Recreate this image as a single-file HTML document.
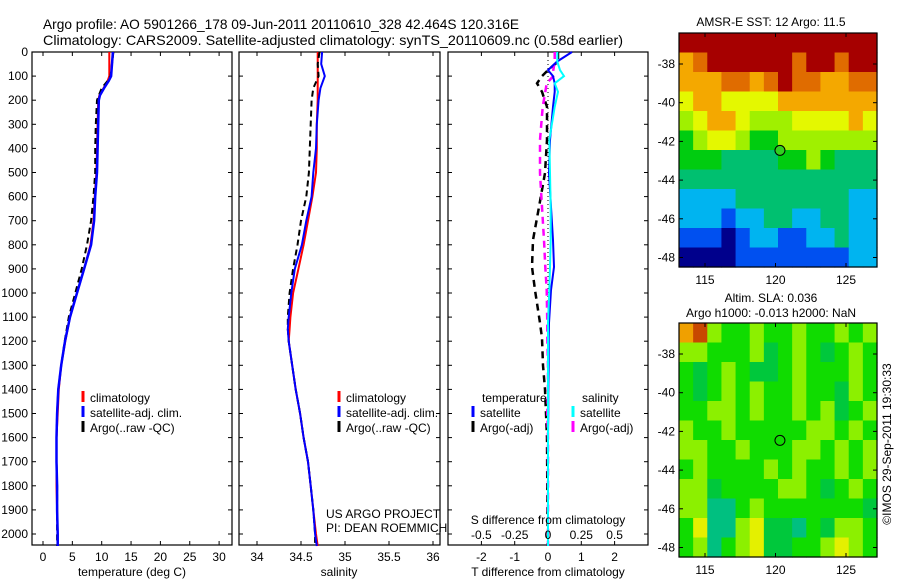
<!DOCTYPE html>
<html><head><meta charset="utf-8"><style>
html,body{margin:0;padding:0;background:#fff;}
svg{display:block;font-family:"Liberation Sans",sans-serif;}
</style></head><body>
<svg id="fig" width="900" height="580" viewBox="0 0 900 580" xmlns="http://www.w3.org/2000/svg">
<rect x="0" y="0" width="900" height="580" fill="#fff"/>
<text x="43" y="29" font-size="14" textLength="476" lengthAdjust="spacingAndGlyphs">Argo profile: AO 5901266_178 09-Jun-2011 20110610_328 42.464S 120.316E</text>
<text x="43" y="45" font-size="14" textLength="580" lengthAdjust="spacingAndGlyphs">Climatology: CARS2009. Satellite-adjusted climatology: synTS_20110609.nc (0.58d earlier)</text>
<g id="g"></g>
</svg>
<script>
// ---------- data ----------
const depthT = [0,100,120,150,180,200,300,400,500,600,700,800,900,1000,1100,1200,1300,1400,1500,1600,1700,1800,1900,2000,2050];
const tempClim = [11.3,11.3,11.0,10.3,9.6,9.4,9.3,9.2,9.1,8.8,8.6,8.1,7.0,5.8,4.6,3.8,3.1,2.7,2.5,2.3,2.3,2.3,2.4,2.5,2.5];
const tempSat  = [11.9,11.6,11.2,10.4,9.7,9.5,9.4,9.3,9.2,8.9,8.7,8.2,7.0,5.8,4.6,3.75,3.1,2.6,2.4,2.3,2.3,2.4,2.4,2.5,2.5];
const tempArgo = [12.0,11.5,11.0,10.0,9.5,9.2,9.0,8.9,8.9,8.6,8.2,7.5,6.6,5.5,4.4,3.7,3.1,2.6,2.4,2.3,2.3,2.4,2.4,2.4,2.4];
const depthS = [0,50,100,150,200,300,400,500,600,700,800,900,1000,1100,1150,1200,1300,1400,1500,1600,1700,1800,1900,2000,2050];
const salClim = [34.69,34.69,34.69,34.69,34.69,34.68,34.68,34.67,34.63,34.58,34.53,34.47,34.41,34.38,34.37,34.36,34.40,34.44,34.49,34.53,34.58,34.61,34.64,34.67,34.69];
const salSat  = [34.74,34.73,34.77,34.72,34.70,34.68,34.67,34.64,34.62,34.56,34.51,34.43,34.39,34.36,34.35,34.36,34.40,34.44,34.49,34.53,34.58,34.61,34.64,34.66,34.68];
const salArgo = [34.71,34.69,34.70,34.64,34.62,34.61,34.60,34.59,34.56,34.50,34.46,34.41,34.37,34.35,34.35,34.36,34.40,34.44,34.49,34.53,34.58,34.61,34.64,34.66,34.66];
const depthD = [0,40,75,100,130,165,228,365,502,643,780,892,988,1124,1187,1300,1400,1500,1600,1800,2000,2050];
const dTsat  = [0.72,0.27,0.0,0.15,0.2,0.2,0.15,0.06,0.03,0.09,0.15,0.18,0.09,0.03,0.02,0.02,0.01,0.01,0.0,0.0,0.0,0.0];
const dSsat  = [0.07,0.07,0.09,0.12,0.05,0.075,0.05,0.01,0.015,0.02,0.02,0.015,0.01,0.0,0.0,0.0,0.0,0.0,0.0,0.0,0.0,0.0];
const dTargo = [0.3,0.3,0.0,-0.18,-0.33,-0.18,-0.03,-0.03,-0.09,-0.27,-0.45,-0.48,-0.39,-0.24,-0.18,-0.15,-0.09,-0.06,-0.03,-0.02,-0.01,-0.01];
const dSargo = [0.05,0.05,0.04,0.04,-0.01,-0.02,-0.04,-0.06,-0.06,-0.045,-0.03,-0.02,-0.01,-0.005,-0.005,0.0,0.0,-0.005,0.0,0.0,0.0,0.0];
const depthTicks = [0,100,200,300,400,500,600,700,800,900,1000,1100,1200,1300,1400,1500,1600,1700,1800,1900,2000];
const tempTicks = [0,5,10,15,20,25,30];
const salTicks = [34,34.5,35,35.5,36];
const salTickLabels = ["34","34.5","35","35.5","36"];
const dTTicks = [-2,-1,0,1,2];
const dSTicks = [-0.5,-0.25,0,0.25,0.5];
const dSTickLabels = ["-0.5","-0.25","0","0.25","0.5"];
const latTicks = [-38,-40,-42,-44,-46,-48];
const lonTicks = [115,120,125];
const argoLon = 120.316, argoLat = -42.464;
// SST map grid (0 = coldest .. 9 = warmest), rows north->south, 14 cols
const sstGrid = [
"99999999999999",
"78999999899899",
"77788789887788",
"67766667777777",
"56776555666676",
"45665445555555",
"44433334454333",
"33333333333333",
"22223333333322",
"22212233223322",
"11101221122322",
"00001111111122"];
// SLA map grid categories
const slaGrid = [
"orlGGlGGlGGlGl",
"llGGGlgGlGgGlG",
"GgGlGggGlGGGlG",
"GgGlGlGGlGGglG",
"GGllGlGGlGlgGl",
"lGGlGGGGGllGlG",
"llGGlGGGllGlGl",
"GlGGGGlGlGGlGl",
"llgGGGGllGgGlG",
"llaaGlGGGGGGGg",
"GyaalyggaGgllG",
"GlaGlyggGGlylG"];
const sstColors = ["#00008c","#0050f0","#00b4f0","#00c070","#00cc10","#a0f000","#e4f800","#f4a800","#e06c00","#a60000"];
const slaColors = {a:"#00c080",g:"#00c83c",G:"#10dc00",l:"#8cf000",y:"#e4f000",o:"#f0a000",r:"#c84800"};

// ---------- helpers ----------
const NS="http://www.w3.org/2000/svg";
const G=document.getElementById('g');
function mk(tag,attrs,parent){const e=document.createElementNS(NS,tag);for(const k in attrs)e.setAttribute(k,attrs[k]);(parent||G).appendChild(e);return e;}
function txt(x,y,s,size,anchor,parent){const t=mk('text',{x:x,y:y,'font-size':size,'text-anchor':anchor||'start'},parent);t.textContent=s;return t;}
const TOP=52, BOT=545;
const yD = d => TOP + d*0.241;
const xT = t => 43 + t*5.87;
const xS = s => 257 + (s-34)*88;
const xDT = v => 548 + v*33.3;
const xDS = v => 548 + v*133.2;

function panel(name,x0,x1){
  const r=mk('rect',{x:x0,y:TOP,width:x1-x0,height:BOT-TOP,fill:'none',stroke:'#000','stroke-width':1.2});
  
  
  depthTicks.forEach(d=>{
    mk('line',{x1:x0,x2:x0+4,y1:yD(d),y2:yD(d),stroke:'#000'});
    mk('line',{x1:x1,x2:x1-4,y1:yD(d),y2:yD(d),stroke:'#000'});
  });
}
function xticks(x0,x1,vals,fx){
  vals.forEach(v=>{const x=fx(v);
    mk('line',{x1:x,x2:x,y1:TOP,y2:TOP+4,stroke:'#000'});
    mk('line',{x1:x,x2:x,y1:BOT,y2:BOT-4,stroke:'#000'});});
}
function line(name,xs,ds,fx,color,w,dash){
  const pts=xs.map((v,i)=>fx(v).toFixed(1)+','+yD(ds[i]).toFixed(1)).join(' ');
  const p=mk('polyline',{points:pts,fill:'none',stroke:color,'stroke-width':w});
  if(dash)p.setAttribute('stroke-dasharray',dash);
  
  
  return p;
}
function legendItem(name,mx,y,color,label){
  const gg=mk('g',{});
  
  
  mk('line',{x1:mx,x2:mx,y1:y-11,y2:y,stroke:color,'stroke-width':3},gg);
  txt(mx+7,y,label,12,'start',gg);
}

// ---------- panel 1 temperature ----------
panel('temperature-panel',32,232);
xticks(32,232,tempTicks,xT);
depthTicks.forEach(d=>{const t=txt(28,yD(d)+4,String(d),12,'end');});
tempTicks.forEach(v=>{txt(xT(v),561,String(v),12,'middle');});
txt(132,576,'temperature (deg C)',12,'middle');
line('temp-climatology-line',tempClim,depthT,xT,'#f00',2);
line('temp-argo-line',tempArgo,depthT,xT,'#000',2,'6,4');
line('temp-satellite-line',tempSat,depthT,xT,'#00f',2.5);
legendItem('legend-climatology',83,402,'#f00','climatology');
legendItem('legend-satellite-adj',83,417,'#00f','satellite-adj. clim.');
legendItem('legend-argo',83,432,'#000','Argo(..raw -QC)');

// ---------- panel 2 salinity ----------
panel('salinity-panel',239,440);
xticks(239,440,salTicks,xS);
salTicks.forEach((v,i)=>{txt(xS(v),561,salTickLabels[i],12,'middle');});
txt(339,576,'salinity',12,'middle');
line('sal-climatology-line',salClim,depthS,xS,'#f00',2);
line('sal-argo-line',salArgo,depthS,xS,'#000',2,'6,4');
line('sal-satellite-line',salSat,depthS,xS,'#00f',2);
legendItem('legend-climatology-2',339,402,'#f00','climatology');
legendItem('legend-satellite-adj-2',339,417,'#00f','satellite-adj. clim.');
legendItem('legend-argo-2',339,432,'#000','Argo(..raw -QC)');
txt(326,518,'US ARGO PROJECT',12,'start');
txt(326,532,'PI: DEAN ROEMMICH',12,'start');

// ---------- panel 3 differences ----------
panel('difference-panel',448,648);
xticks(448,648,dTTicks,xDT);
mk('line',{x1:548,x2:548,y1:TOP,y2:BOT,stroke:'#000','stroke-width':1,'stroke-dasharray':'1,3'});
line('dT-argo-line',dTargo,depthD,xDT,'#000',2.5,'7,5');
line('dS-argo-line',dSargo,depthD,xDS,'#f0f',2.5,'7,5');
line('dT-satellite-line',dTsat,depthD,xDT,'#00f',2);
line('dS-satellite-line',dSsat,depthD,xDS,'#0ff',2);
txt(482,402,'temperature',12,'start');
txt(582,402,'salinity',12,'start');
legendItem('legend-t-satellite',473,417,'#00f','satellite');
legendItem('legend-t-argo',473,432,'#000','Argo(-adj)');
legendItem('legend-s-satellite',573,417,'#0ff','satellite');
legendItem('legend-s-argo',573,432,'#f0f','Argo(-adj)');
txt(548,524,'S difference from climatology',12,'middle');
dSTicks.forEach((v,i)=>{txt(xDS(v),539,dSTickLabels[i],12,'middle');});
dTTicks.forEach(v=>{txt(xDT(v),561,String(v),12,'middle');});
txt(548,576,'T difference from climatology',12,'middle');

// ---------- maps ----------
const MX0=679, MX1=877;
const xLon = lon => 705 + (lon-115)*14.1;
function map(name,y0,grid,colorOf,circleFill){
  const yLat = lat => y0 + 31 + (-38-lat)*19.35;
  const g=mk('g',{});
  
  
  const rows=grid.length, cols=grid[0].length, h=234;
  const cw=(MX1-MX0)/cols, ch=h/rows;
  grid.forEach((row,r)=>{for(let c=0;c<cols;c++){
    mk('rect',{x:(MX0+c*cw).toFixed(2),y:(y0+r*ch).toFixed(2),width:(cw+0.6).toFixed(2),height:(ch+0.6).toFixed(2),fill:colorOf(row[c])},g);
  }});
  mk('rect',{x:MX0,y:y0,width:MX1-MX0,height:h,fill:'none',stroke:'#000','stroke-width':1.2},g);
  latTicks.forEach(l=>{const y=yLat(l);
    mk('line',{x1:MX0,x2:MX0+4,y1:y,y2:y,stroke:'#000'},g);
    mk('line',{x1:MX1,x2:MX1-4,y1:y,y2:y,stroke:'#000'},g);
    txt(675,y+4,String(l),12,'end',g);});
  lonTicks.forEach(l=>{const x=xLon(l);
    mk('line',{x1:x,x2:x,y1:y0,y2:y0+4,stroke:'#000'},g);
    mk('line',{x1:x,x2:x,y1:y0+h,y2:y0+h-4,stroke:'#000'},g);
    txt(x,y0+h+17,String(l),12,'middle',g);});
  const c=mk('circle',{cx:xLon(argoLon),cy:yLat(argoLat),r:5,fill:circleFill,stroke:'#000','stroke-width':1},g);
  
  
}
map('sst-map',33,sstGrid,ch=>sstColors[+ch],'#30d020');
txt(771,26,'AMSR-E SST: 12 Argo: 11.5',12,'middle');
map('sla-map',323,slaGrid,ch=>slaColors[ch],'none');
txt(771,302,'Altim. SLA: 0.036',12,'middle');
txt(771,317,'Argo h1000: -0.013 h2000: NaN',12,'middle');
const cr=txt(0,0,'©IMOS 29-Sep-2011 19:30:33',12,'middle');
cr.setAttribute('transform','translate(891,444) rotate(-90)');

</script>
</body></html>
